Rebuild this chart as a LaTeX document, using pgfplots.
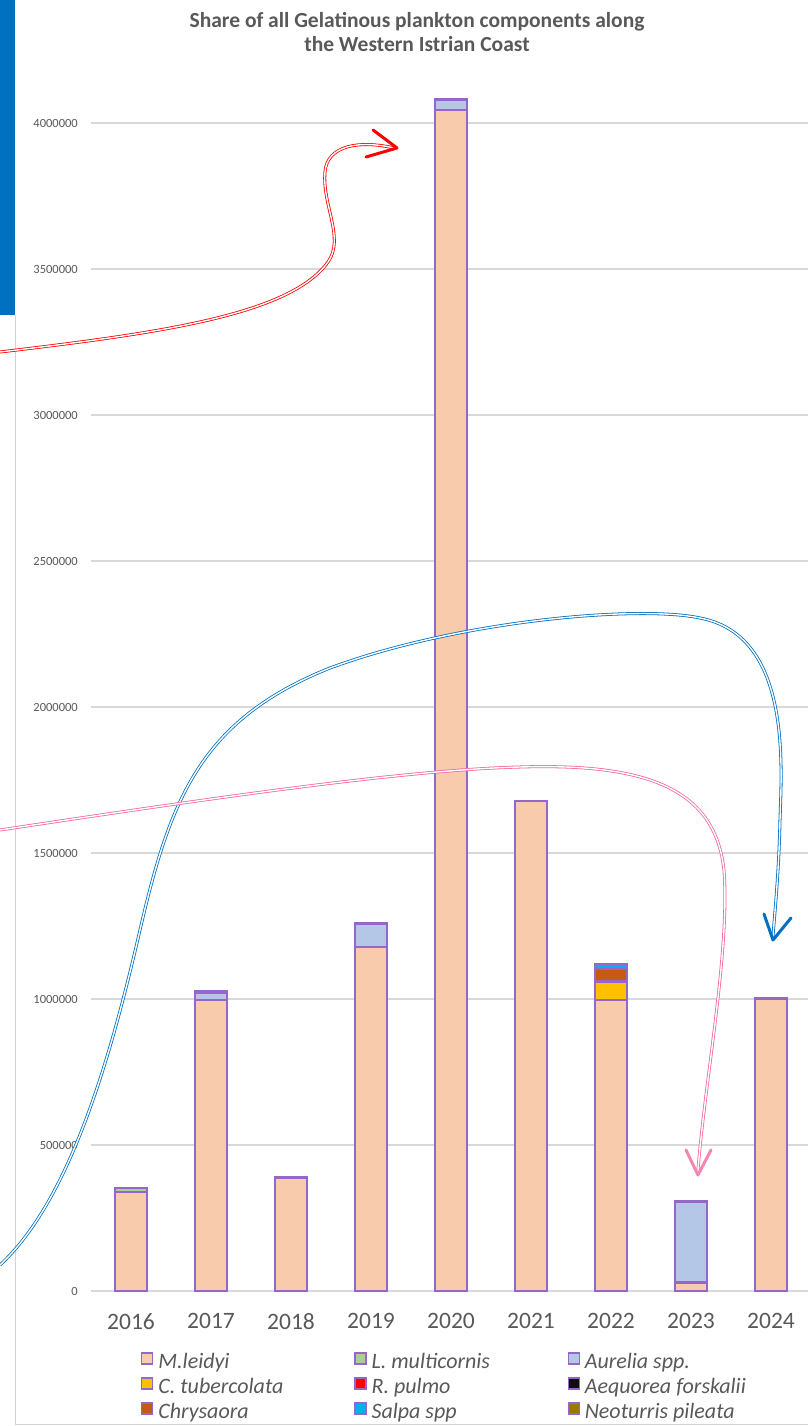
\documentclass[border=0pt]{standalone}
\usepackage{pgfplots}
\usepackage{pgfplotstable}
\pgfplotsset{compat=1.18}
\usepackage{fontspec}
\setmainfont{Carlito}

\definecolor{txtgray}{HTML}{595959}
\definecolor{gridgray}{HTML}{D9D9D9}
\definecolor{edge}{HTML}{9467C8}
\definecolor{cMl}{HTML}{F8CBAD}
\definecolor{cLm}{HTML}{A9D18E}
\definecolor{cAu}{HTML}{B4C7E7}
\definecolor{cCt}{HTML}{FFC000}
\definecolor{cRp}{HTML}{FF0000}
\definecolor{cAf}{HTML}{0D0D0D}
\definecolor{cCh}{HTML}{C55A11}
\definecolor{cSa}{HTML}{00B0F0}
\definecolor{cNp}{HTML}{9C7800}
\definecolor{arrowblue}{HTML}{0070C0}
\definecolor{arrowpink}{HTML}{F3689E}

% abundance per year (0 = 2016 ... 8 = 2024)
\pgfplotstableread{
x Ml Lm Au Ct Rp Af Ch Sa Np
0 339000 14000 0 0 0 2000 0 0 0
1 997000 0 24000 0 0 6000 0 0 0
2 387000 0 3000 0 0 0 0 0 0
3 1178000 0 79000 0 0 0 3000 0 0
4 4045000 0 34000 0 0 4000 0 0 0
5 1676000 0 0 0 0 4000 0 0 0
6 997000 0 0 62000 3000 0 41000 17000 0
7 27000 5000 272000 0 5000 0 0 0 0
8 1000000 0 0 0 0 3000 0 0 0
}\datatable

\newcommand{\lgd}[1]{\makebox[201bp][l]{\hspace{5bp}\itshape #1}}

\begin{document}
\begin{tikzpicture}
\path[use as bounding box, fill=white] (0,0) rectangle (808bp,-1426bp);

\begin{axis}[
  at={(91bp,-1291bp)}, anchor=south west,
  scale only axis, width=720bp, height=1284.8bp,
  xmin=-0.5, xmax=8.5, ymin=0, ymax=4400000,
  ybar stacked, bar width=32bp,
  axis line style={draw=none},
  major tick length=0pt,
  xtick={0,...,8}, xticklabels={2016,2017,2018,2019,2020,2021,2022,2023,2024},
  ytick={0,500000,...,4000000},
  scaled y ticks=false,
  yticklabel style={/pgf/number format/fixed, /pgf/number format/1000 sep={},
    /pgf/number format/assume math mode=true,
    anchor=east, inner sep=0pt, xshift=-13bp,
    font=\fontsize{12.5bp}{14bp}\selectfont, text=txtgray},
  xticklabel style={anchor=north, inner sep=0pt, yshift=-22bp,
    font=\fontsize{23.5bp}{26bp}\selectfont, text=txtgray},
  ymajorgrids, grid style={draw=gridgray, line width=1.3bp},
  every axis plot/.append style={draw=edge, line width=1.5bp},
  legend columns=3,
  legend style={at={(axis description cs:0.0694,-0.0475)}, anchor=north west,
    draw=none, fill=none, inner sep=0pt, row sep=3.5bp,
    nodes={inner sep=0pt, text height=16bp, text depth=5.5bp},
    font=\fontsize{22bp}{25bp}\selectfont, text=txtgray},
  legend image code/.code={\draw[#1, line width=1.2bp] (0bp,-1bp) rectangle (11bp,10bp);},
]
\addplot[fill=cMl] table[x=x, y=Ml] {\datatable};
\addplot[fill=cLm] table[x=x, y=Lm] {\datatable};
\addplot[fill=cAu] table[x=x, y=Au] {\datatable};
\addplot[fill=cCt] table[x=x, y=Ct] {\datatable};
\addplot[fill=cRp] table[x=x, y=Rp] {\datatable};
\addplot[fill=cAf] table[x=x, y=Af] {\datatable};
\addplot[fill=cCh] table[x=x, y=Ch] {\datatable};
\addplot[fill=cSa] table[x=x, y=Sa] {\datatable};
\addplot[fill=cNp] table[x=x, y=Np] {\datatable};
\addlegendentry{\lgd{M.leidyi}}
\addlegendentry{\lgd{L. multicornis}}
\addlegendentry{\lgd{Aurelia spp.}}
\addlegendentry{\lgd{C. tubercolata}}
\addlegendentry{\lgd{R. pulmo}}
\addlegendentry{\lgd{Aequorea forskalii}}
\addlegendentry{\lgd{Chrysaora}}
\addlegendentry{\lgd{Salpa spp}}
\addlegendentry{\lgd{Neoturris pileata}}
\end{axis}

\begin{scope}[x=1bp, y=-1bp]
  % title
  \node[align=center, text=txtgray, font=\bfseries\fontsize{21.5bp}{24bp}\selectfont]
    at (417,32) {Share of all Gelatinous plankton components along\\the Western Istrian Coast};
  % frame and side tab
  \fill[arrowblue] (0,0) rectangle (15,315);
  \draw[gray!35, line width=1bp] (15,315) -- (15,1424) -- (808,1424);
  % red arrow
  \draw[red, line width=0.8bp, double=white, double distance=1.4bp]
    (0,352) .. controls (160,333) and (290,315) .. (328,262)
    .. controls (345,238) and (322,205) .. (325,172)
    .. controls (327,145) and (360,140) .. (394,148);
  \draw[red, line width=3bp, line cap=round, line join=round] (373,130) -- (397,148) -- (366,157);
  % blue arrow
  \draw[arrowblue, line width=0.8bp, double=white, double distance=1.4bp]
    (0,1265) .. controls (70,1200) and (110,1060) .. (140,930)
    .. controls (170,800) and (200,720) .. (330,668)
    .. controls (460,620) and (640,605) .. (700,618)
    .. controls (790,635) and (782,760) .. (780,820)
    .. controls (779,870) and (775,910) .. (773,936);
  \draw[arrowblue, line width=3bp, line cap=round, line join=round] (764,914) -- (773,940) -- (791,918);
  % pink arrow
  \draw[arrowpink, line width=0.8bp, double=white, double distance=1.4bp]
    (0,830) .. controls (200,800) and (400,770) .. (520,767)
    .. controls (650,763) and (715,790) .. (724,870)
    .. controls (730,950) and (705,1080) .. (698,1170);
  \draw[arrowpink!80, line width=3bp, line cap=round, line join=round] (686,1150) -- (698,1175) -- (711,1150);
\end{scope}
\end{tikzpicture}
\end{document}
